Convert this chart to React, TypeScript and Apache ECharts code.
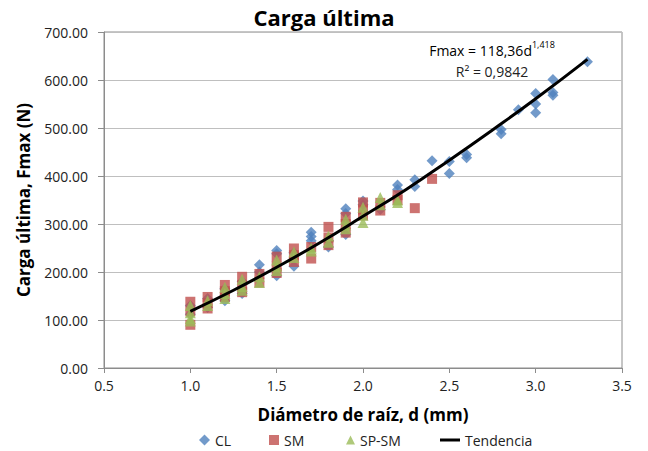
import React, { useEffect, useRef } from "react";
import * as echarts from "echarts";

const FONT = "'Open Sans', 'Noto Sans', sans-serif";

// CL series (d in mm, Fmax in N)
const clD = [1.0, 1.0, 1.1, 1.1, 1.2, 1.2, 1.3, 1.3, 1.4, 1.4, 1.5, 1.5, 1.5, 1.6, 1.6, 1.7, 1.7, 1.7, 1.8, 1.8, 1.9, 1.9, 1.9, 2.0, 2.0, 2.1, 2.2, 2.2, 2.3, 2.3, 2.4, 2.5, 2.5, 2.6, 2.6, 2.8, 2.8, 2.9, 3.0, 3.0, 3.0, 3.1, 3.1, 3.1, 3.3];
const clF = [130, 112, 145, 126, 165, 140, 180, 155, 215, 200, 245, 238, 192, 240, 212, 283, 274, 265, 265, 252, 332, 322, 278, 348, 340, 330, 381, 372, 392, 378, 432, 430, 405, 445, 438, 497, 488, 538, 572, 550, 532, 601, 574, 568, 638];

// SM series
const smD = [1.0, 1.0, 1.0, 1.1, 1.1, 1.1, 1.2, 1.2, 1.2, 1.3, 1.3, 1.3, 1.4, 1.4, 1.5, 1.5, 1.5, 1.6, 1.6, 1.6, 1.7, 1.7, 1.8, 1.8, 1.8, 1.9, 1.9, 1.9, 2.0, 2.0, 2.0, 2.1, 2.1, 2.2, 2.2, 2.3, 2.4];
const smF = [138, 118, 90, 148, 135, 124, 173, 160, 148, 190, 172, 158, 196, 178, 232, 212, 198, 249, 235, 221, 252, 228, 294, 272, 256, 315, 300, 282, 345, 330, 318, 344, 328, 360, 350, 333, 394];

// SP-SM series
const spD = [1.0, 1.0, 1.0, 1.0, 1.1, 1.1, 1.2, 1.2, 1.2, 1.3, 1.3, 1.3, 1.4, 1.4, 1.5, 1.5, 1.5, 1.6, 1.6, 1.7, 1.7, 1.8, 1.8, 1.9, 1.9, 1.9, 2.0, 2.0, 2.0, 2.1, 2.1, 2.2, 2.2];
const spF = [130, 115, 103, 98, 140, 130, 168, 155, 145, 185, 170, 162, 190, 178, 225, 212, 203, 242, 230, 250, 244, 275, 262, 310, 298, 290, 335, 318, 303, 355, 340, 350, 345];

// Trend line (Tendencia)
const trendD = [1.0, 1.25, 1.5, 1.75, 2.0, 2.25, 2.5, 2.75, 3.0, 3.3];
const trendF = [118, 162, 210, 261, 316, 372, 433, 496, 561, 643];

const seriesNames = ["CL", "SM", "SP-SM", "Tendencia"];
const colors = ["#4F81BD", "#C0504D", "#9BBB59", "#000000"];

const pairs = (xs: number[], ys: number[]) => xs.map((x, i) => [x, ys[i]]);

export default function App() {
  const ref = useRef<HTMLDivElement>(null);
  useEffect(() => {
    if (!ref.current) return;
    const chart = echarts.init(ref.current, null, { renderer: "svg" });
    const legendBase = {
      orient: "horizontal",
      top: 433,
      padding: 0,
      textStyle: { fontFamily: FONT, fontSize: 14, color: "#222" },
    };
    chart.setOption({
      animation: false,
      backgroundColor: "#ffffff",
      title: {
        text: "Carga última",
        left: "center",
        top: 6,
        padding: 0,
        textStyle: { fontFamily: FONT, fontSize: 22, fontWeight: "bold", color: "#000" },
      },
      grid: {
        left: 104,
        right: 26,
        top: 32,
        bottom: 83,
        show: true,
        borderColor: "#8C8C8C",
        borderWidth: 1,
        backgroundColor: "transparent",
      },
      legend: [
        { ...legendBase, left: 199, data: [{ name: seriesNames[0], icon: "diamond" }], itemWidth: 11, itemHeight: 11 },
        { ...legendBase, left: 269, data: [{ name: seriesNames[1], icon: "rect" }], itemWidth: 10, itemHeight: 10 },
        { ...legendBase, left: 346, data: [{ name: seriesNames[2], icon: "triangle" }], itemWidth: 9, itemHeight: 9 },
        { ...legendBase, left: 440, data: [{ name: seriesNames[3], icon: "rect", itemStyle: { color: "#000" } }], itemWidth: 20, itemHeight: 3 },
      ],
      xAxis: {
        type: "value",
        min: 0.5,
        max: 3.5,
        interval: 0.5,
        name: "Diámetro de raíz, d (mm)",
        nameLocation: "middle",
        nameGap: 38,
        nameTextStyle: { fontFamily: FONT, fontSize: 17, fontWeight: "bold", color: "#000" },
        axisLine: { show: true, lineStyle: { color: "#8C8C8C" } },
        axisTick: { show: true, inside: false, length: 5, lineStyle: { color: "#8C8C8C" } },
        axisLabel: { fontFamily: FONT, fontSize: 14, color: "#222", margin: 10, formatter: (v: number) => v.toFixed(1) },
        splitLine: { show: false },
      },
      yAxis: {
        type: "value",
        min: 0,
        max: 700,
        interval: 100,
        name: "Carga última, Fmax (N)",
        nameLocation: "middle",
        nameGap: 72,
        nameTextStyle: { fontFamily: FONT, fontSize: 17, fontWeight: "bold", color: "#000" },
        axisLine: { show: true, lineStyle: { color: "#8C8C8C" } },
        axisTick: { show: true, inside: false, length: 6, lineStyle: { color: "#8C8C8C" } },
        axisLabel: { fontFamily: FONT, fontSize: 14, color: "#222", margin: 16, formatter: (v: number) => v.toFixed(2) },
        splitLine: { show: true, lineStyle: { color: "#BFBFBF", width: 1 } },
      },
      series: [
        {
          name: seriesNames[0],
          type: "scatter",
          symbol: "diamond",
          symbolSize: 11,
          itemStyle: { color: colors[0] },
          data: pairs(clD, clF),
        },
        {
          name: seriesNames[1],
          type: "scatter",
          symbol: "rect",
          symbolSize: 10,
          itemStyle: { color: colors[1] },
          data: pairs(smD, smF),
        },
        {
          name: seriesNames[2],
          type: "scatter",
          symbol: "triangle",
          symbolSize: 11,
          itemStyle: { color: colors[2] },
          data: pairs(spD, spF),
        },
        {
          name: seriesNames[3],
          type: "line",
          smooth: true,
          showSymbol: false,
          lineStyle: { color: colors[3], width: 3 },
          itemStyle: { color: colors[3] },
          data: pairs(trendD, trendF),
          z: 5,
        },
      ],
      graphic: [
        {
          type: "text",
          x: 492,
          y: 50,
          style: {
            text: "{a|Fmax = 118,36d}{s|1,418}",
            align: "center",
            verticalAlign: "middle",
            rich: {
              a: { fontFamily: FONT, fontSize: 14, color: "#222", lineHeight: 20 },
              s: { fontFamily: FONT, fontSize: 9, color: "#222", lineHeight: 10, verticalAlign: "top" },
            },
          },
        },
        {
          type: "text",
          x: 492,
          y: 71,
          style: {
            text: "R² = 0,9842",
            align: "center",
            verticalAlign: "middle",
            fontFamily: FONT,
            fontSize: 14,
            fill: "#222",
          },
        },
      ],
    });
    return () => chart.dispose();
  }, []);
  return (
    <div
      ref={ref}
      style={{ position: "fixed", left: 0, top: 0, width: 648, height: 451, background: "#fff" }}
    />
  );
}
